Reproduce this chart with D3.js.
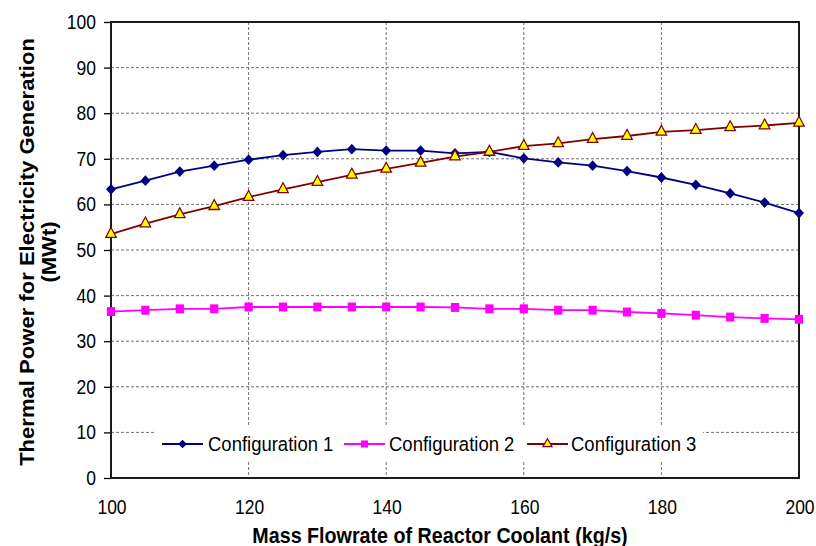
<!DOCTYPE html>
<html>
<head>
<meta charset="utf-8">
<script src="https://cdn.jsdelivr.net/npm/d3@7"></script>
<style>
  body { margin: 0; background: #fff; }
  text { font-family: "Liberation Sans", Arial, sans-serif; fill: #000; }
</style>
</head>
<body>
<div id="chart"></div>
<script>
/*
CHART DATA
*/
var flowrate = [100, 105, 110, 115, 120, 125, 130, 135, 140, 145, 150,
                155, 160, 165, 170, 175, 180, 185, 190, 195, 200];
var config1 = [63.3, 65.2, 67.2, 68.5, 69.8, 70.8, 71.5, 72.1, 71.8, 71.8, 71.2,
               71.5, 70.1, 69.2, 68.5, 67.3, 65.9, 64.3, 62.4, 60.4, 58.1];
var config2 = [36.5, 36.8, 37.1, 37.1, 37.5, 37.5, 37.5, 37.5, 37.5, 37.5, 37.4,
               37.1, 37.1, 36.8, 36.8, 36.4, 36.1, 35.7, 35.3, 35.0, 34.8];
var config3 = [53.5, 55.8, 57.8, 59.6, 61.6, 63.3, 64.9, 66.5, 67.8, 69.1, 70.5,
               71.5, 72.8, 73.4, 74.3, 75.0, 75.9, 76.3, 76.9, 77.3, 77.9];
var seriesNames = ["Configuration 1", "Configuration 2", "Configuration 3"];
var xTicks = [100, 120, 140, 160, 180, 200];
var yTicks = [0, 10, 20, 30, 40, 50, 60, 70, 80, 90, 100];
var xTitle = "Mass Flowrate of Reactor Coolant (kg/s)";
var yTitle = ["Thermal Power for Electricity Generation", "(MWt)"];

// the reference picture is a little taller than it is wide, so text is stretched
var SY = 1.12;

var width = 816, height = 546;
var plot = { left: 111, right: 799, top: 22, bottom: 478 };

var svg = d3.select("#chart").append("svg")
    .attr("width", width)
    .attr("height", height);

var x = d3.scaleLinear().domain([100, 200]).range([plot.left, plot.right]);
var y = d3.scaleLinear().domain([0, 100]).range([plot.bottom, plot.top]);

// Excel style diamond: a square turned by 45 degrees
var squareDiamond = {
  draw: function(context, size) {
    var r = Math.sqrt(size / 2);
    context.moveTo(0, -r);
    context.lineTo(r, 0);
    context.lineTo(0, r);
    context.lineTo(-r, 0);
    context.closePath();
  }
};

var series = [
  { name: seriesNames[0], values: config1, color: "#000080", symbol: squareDiamond, size: 50, fill: "#000080", stroke: "none" },
  { name: seriesNames[1], values: config2, color: "#ff00ff", symbol: d3.symbolSquare, size: 68, fill: "#ff00ff", stroke: "none" },
  { name: seriesNames[2], values: config3, color: "#800000", symbol: d3.symbolTriangle, size: 48, fill: "#ffff00", stroke: "#800000" }
];

// gridlines
var grid = svg.append("g")
    .attr("stroke", "#707070")
    .attr("stroke-width", 1)
    .attr("stroke-dasharray", "3,2");

grid.selectAll("line.gx")
  .data(xTicks.slice(1, -1))
  .enter().append("line")
    .attr("x1", function(d) { return x(d); })
    .attr("x2", function(d) { return x(d); })
    .attr("y1", plot.top)
    .attr("y2", plot.bottom);

grid.selectAll("line.gy")
  .data(yTicks.slice(1, -1))
  .enter().append("line")
    .attr("x1", plot.left)
    .attr("x2", plot.right)
    .attr("y1", function(d) { return y(d); })
    .attr("y2", function(d) { return y(d); });

// y axis with outward ticks, labels drawn separately
var yAxis = svg.append("g")
    .attr("transform", "translate(" + plot.left + ",0)")
    .call(d3.axisLeft(y).tickValues(yTicks).tickSize(7).tickSizeOuter(0).tickFormat(""));
yAxis.select(".domain").remove();
yAxis.selectAll("line").attr("stroke", "#000").attr("stroke-width", 1.3);

svg.append("g").selectAll("text")
  .data(yTicks)
  .enter().append("text")
    .attr("text-anchor", "end")
    .attr("font-size", 17.5)
    .attr("transform", function(d) {
      return "translate(96," + (y(d) + 7) + ") scale(1," + SY + ")";
    })
    .text(function(d) { return d; });

svg.append("g").selectAll("text")
  .data(xTicks)
  .enter().append("text")
    .attr("text-anchor", "middle")
    .attr("font-size", 17.5)
    .attr("transform", function(d) {
      return "translate(" + (x(d) + 1) + ",514) scale(1," + SY + ")";
    })
    .text(function(d) { return d; });

// plot frame
svg.append("rect")
    .attr("x", plot.left)
    .attr("y", plot.top)
    .attr("width", plot.right - plot.left)
    .attr("height", plot.bottom - plot.top)
    .attr("fill", "none")
    .attr("stroke", "#1a1a1a")
    .attr("stroke-width", 2);

// legend box (covers the gridlines)
var legendItems = [
  { lineX: 162, textX: 208 },
  { lineX: 344, textX: 389 },
  { lineX: 527, textX: 571 }
];
var legend = svg.append("g");
legend.append("rect")
    .attr("x", 155).attr("y", 427)
    .attr("width", 548).attr("height", 33)
    .attr("fill", "#fff");

// series lines and markers
var line = d3.line()
    .x(function(d, i) { return x(flowrate[i]); })
    .y(function(d) { return y(d); });

series.forEach(function(s) {
  svg.append("path")
      .datum(s.values)
      .attr("fill", "none")
      .attr("stroke", s.color)
      .attr("stroke-width", 1.8)
      .attr("d", line);

  svg.append("g").selectAll("path")
    .data(s.values)
    .enter().append("path")
      .attr("d", d3.symbol().type(s.symbol).size(s.size))
      .attr("transform", function(d, i) {
        return "translate(" + x(flowrate[i]) + "," + y(d) + ") scale(1,1.08)";
      })
      .attr("fill", s.fill)
      .attr("stroke", s.stroke)
      .attr("stroke-width", 1.2);
});

series.forEach(function(s, i) {
  var item = legendItems[i];
  legend.append("line")
      .attr("x1", item.lineX).attr("x2", item.lineX + 41)
      .attr("y1", 444).attr("y2", 444)
      .attr("stroke", s.color)
      .attr("stroke-width", 1.8);
  legend.append("path")
      .attr("d", d3.symbol().type(s.symbol).size(s.size * 0.75))
      .attr("transform", "translate(" + (item.lineX + 20.5) + ",444)")
      .attr("fill", s.fill)
      .attr("stroke", s.stroke)
      .attr("stroke-width", 1.2);
  legend.append("text")
      .attr("font-size", 18.5)
      .attr("transform", "translate(" + item.textX + ",451) scale(1," + SY + ")")
      .text(s.name);
});

// axis titles
svg.append("text")
    .attr("text-anchor", "middle")
    .attr("font-size", 19.7)
    .attr("font-weight", "bold")
    .attr("transform", "translate(440,543) scale(1," + SY + ")")
    .text(xTitle);

svg.append("g").selectAll("text")
  .data(yTitle)
  .enter().append("text")
    .attr("text-anchor", "middle")
    .attr("font-size", 19.7)
    .attr("font-weight", "bold")
    .attr("transform", function(d, i) {
      return "translate(" + (34 + i * 22) + ",252) rotate(-90) scale(" + SY + ",1)";
    })
    .text(function(d) { return d; });
</script>
</body>
</html>
